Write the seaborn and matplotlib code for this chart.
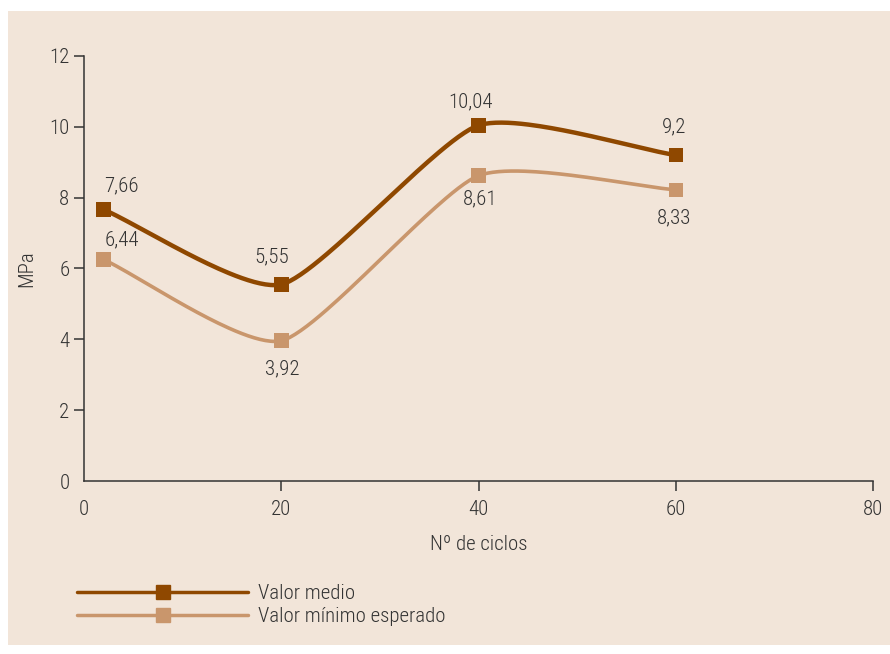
import numpy as np
import pandas as pd
import matplotlib
matplotlib.use('Agg')
import matplotlib.pyplot as plt
import seaborn as sns
from matplotlib.patches import Rectangle

# Datos
ciclos = [2, 20, 40, 60]
valor_medio = [7.66, 5.55, 10.04, 9.2]
valor_minimo = [6.25, 3.96, 8.62, 8.22]
etiquetas_medio = ['7,66', '5,55', '10,04', '9,2']
etiquetas_minimo = ['6,44', '3,92', '8,61', '8,33']
offset_medio = [(13, 17), (-7, 20), (-6, 17), (-1, 20)]
offset_minimo = [(13, 14), (1, -20), (1, -17), (-1, -20)]

color_medio = '#8f4800'
color_minimo = '#c9966c'
fondo = '#f2e5d9'
texto = '#333333'

sns.set_style('ticks')
plt.rcParams['font.family'] = ['Roboto Condensed', 'Archivo Narrow', 'DejaVu Sans']
plt.rcParams['font.weight'] = 'light'
plt.rcParams['axes.labelweight'] = 'light'


def suavizar(x, y, k=0.3, n=60):
    # spline cardinal (tensión reducida) entre los puntos
    x = np.asarray(x, float)
    y = np.asarray(y, float)
    px = np.concatenate([[2 * x[0] - x[1]], x, [2 * x[-1] - x[-2]]])
    py = np.concatenate([[2 * y[0] - y[1]], y, [2 * y[-1] - y[-2]]])
    t = np.linspace(0, 1, n)
    h00 = 2 * t**3 - 3 * t**2 + 1
    h10 = t**3 - 2 * t**2 + t
    h01 = -2 * t**3 + 3 * t**2
    h11 = t**3 - t**2
    xs, ys = [], []
    for i in range(1, len(px) - 2):
        for p, out in ((px, xs), (py, ys)):
            m0 = k * (p[i + 1] - p[i - 1])
            m1 = k * (p[i + 2] - p[i])
            out.append(h00 * p[i] + h10 * m0 + h01 * p[i + 1] + h11 * m1)
    return np.concatenate(xs), np.concatenate(ys)


df = pd.DataFrame({'ciclos': ciclos * 2,
                   'MPa': valor_medio + valor_minimo,
                   'serie': ['Valor medio'] * 4 + ['Valor mínimo esperado'] * 4})

fig = plt.figure(figsize=(8.9, 6.54), dpi=100)
fig.patches.append(Rectangle((0.009, 0.0138), 0.991, 0.969, transform=fig.transFigure,
                             facecolor=fondo, edgecolor='none', zorder=-10))
ax = fig.add_axes([0.0944, 0.2645, 0.8866, 0.65])
ax.set_facecolor('none')

for serie, col, lw in (('Valor medio', color_medio, 3.2), ('Valor mínimo esperado', color_minimo, 2.6)):
    d = df[df['serie'] == serie]
    sx, sy = suavizar(d['ciclos'], d['MPa'])
    ax.plot(sx, sy, color=col, lw=lw, solid_capstyle='round', zorder=2)

sns.scatterplot(data=df, x='ciclos', y='MPa', hue='serie', marker='s', s=110,
                palette=[color_medio, color_minimo], edgecolor='none', legend=False,
                ax=ax, zorder=3)

for xi, yi, t, off in zip(ciclos, valor_medio, etiquetas_medio, offset_medio):
    ax.annotate(t, (xi, yi), xytext=off, textcoords='offset points',
                ha='center', va='center', fontsize=15, color=texto)
for xi, yi, t, off in zip(ciclos, valor_minimo, etiquetas_minimo, offset_minimo):
    ax.annotate(t, (xi, yi), xytext=off, textcoords='offset points',
                ha='center', va='center', fontsize=15, color=texto)

ax.set_xlim(0, 80)
ax.set_ylim(0, 12)
ax.set_xticks([0, 20, 40, 60, 80])
ax.set_yticks([0, 2, 4, 6, 8, 10, 12])
ax.set_xlabel('Nº de ciclos', fontsize=15, color=texto, labelpad=11)
ax.set_ylabel('MPa', fontsize=15, color=texto, labelpad=9)
ax.tick_params(axis='both', labelsize=15, colors=texto, length=7, width=1.1)
ax.tick_params(axis='x', pad=7)
ax.xaxis.get_major_ticks()[0].tick1line.set_visible(False)
ax.yaxis.get_major_ticks()[0].tick1line.set_visible(False)
for s in ('left', 'bottom'):
    ax.spines[s].set_color(texto)
    ax.spines[s].set_linewidth(1.1)
sns.despine(ax=ax)

h1 = plt.Line2D([], [], color=color_medio, lw=2.5, marker='s', markersize=10)
h2 = plt.Line2D([], [], color=color_minimo, lw=2.5, marker='s', markersize=10)
fig.legend([h1, h2], ['Valor medio', 'Valor mínimo esperado'], loc='upper left',
           bbox_to_anchor=(0.087, 0.107), bbox_transform=fig.transFigure, frameon=False,
           fontsize=15, handlelength=8.2, handletextpad=0.45, labelspacing=0.2,
           borderpad=0, borderaxespad=0, labelcolor=texto)

fig.savefig('out.png', dpi=100, facecolor='white')
